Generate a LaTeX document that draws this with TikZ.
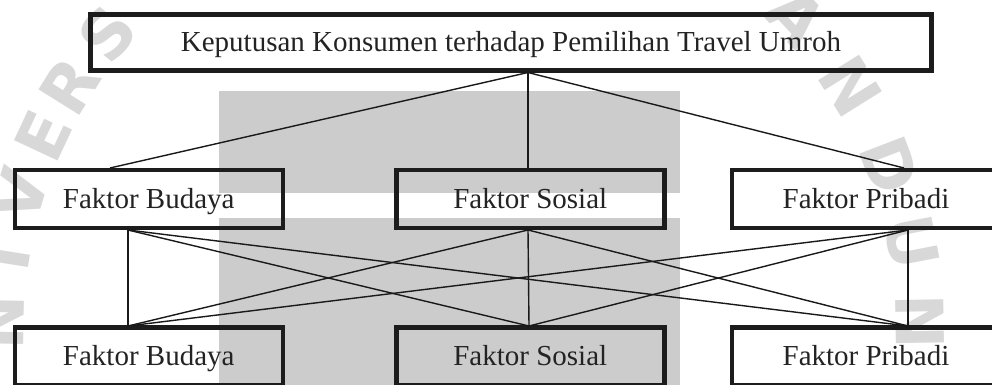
\documentclass[tikz,border=0pt]{standalone}
\usepackage{fontspec}
\setmainfont{Liberation Serif}
\newfontfamily\wmfont{DejaVu Sans}
\definecolor{wmgray}{RGB}{204,204,204}
\definecolor{wmletter}{RGB}{216,216,216}
\definecolor{boxline}{RGB}{28,28,28}
\definecolor{txt}{RGB}{35,35,35}
\begin{document}
\begin{tikzpicture}[x=1pt,y=-1pt,
  box/.style={draw=boxline, line width=4.5pt, inner sep=0pt,
    minimum height=58pt, minimum width=268pt, text=txt,
    text height=18pt, text depth=0pt,
    font=\fontsize{29}{34}\selectfont},
  link/.style={draw=black!90, line width=1.4pt},
  wm/.style={text=wmletter, inner sep=0pt,
    font=\wmfont\bfseries\fontsize{66}{66}\selectfont}]
\useasboundingbox (0,0) rectangle (992,385);
\clip (0,0) rectangle (992,385);
% watermark
\foreach \l/\a in {N/179,I/171,V/163,E/155,R/148,S/140,A/43,N/32,D/21,U/11,N/1}{
  \node[wm, rotate=\a-90] at ({460+460*cos(\a)},{330-460*sin(\a)}) {\l};
}
\fill[wmgray] (219,91) rectangle (680,193);
\fill[wmgray] (219,218) rectangle (680,385);
% nodes
\node[box, minimum width=841pt, minimum height=56pt] (top) at (511,42.5)
  {Keputusan Konsumen terhadap Pemilihan Travel Umroh};
\node[box] (b1) at (148.75,199) {Faktor Budaya};
\node[box] (s1) at (530.25,199) {Faktor Sosial};
\node[box] (p1) at (866,199) {Faktor Pribadi};
\node[box] (b2) at (148.75,356.5) {Faktor Budaya};
\node[box] (s2) at (530.25,356.5) {Faktor Sosial};
\node[box] (p2) at (866,356.5) {Faktor Pribadi};
% anchor points
\coordinate (tb) at (528,72.5);
\coordinate (b1t) at (110,168);
\coordinate (s1t) at (528,168);
\coordinate (p1t) at (904,168);
\coordinate (b1b) at (128,230);
\coordinate (s1b) at (528,230);
\coordinate (p1b) at (908,230);
\coordinate (b2t) at (128,326);
\coordinate (s2t) at (529,326);
\coordinate (p2t) at (908,326);
% connectors
\draw[link] (tb) -- (b1t);
\draw[link] (tb) -- (s1t);
\draw[link] (tb) -- (p1t);
\foreach \u in {b1b,s1b,p1b}{
  \foreach \v in {b2t,s2t,p2t}{
    \draw[link] (\u) -- (\v);
  }
}
\end{tikzpicture}
\end{document}
